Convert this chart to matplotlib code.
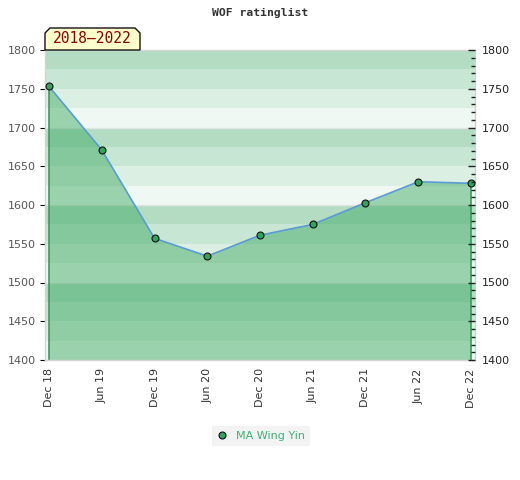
import matplotlib
matplotlib.use("Agg")
import matplotlib.pyplot as plt
from matplotlib.patches import Polygon
from matplotlib.ticker import MultipleLocator

# ---- data ----
periods = ["Dec 18", "Jun 19", "Dec 19", "Jun 20", "Dec 20", "Jun 21", "Dec 21", "Jun 22", "Dec 22"]
ratings = [1753, 1671, 1557, 1534, 1561, 1575, 1603, 1630, 1628]
player = "MA Wing Yin"
title = "WOF ratinglist"
range_label = "2018\u20132022"
y_min, y_max = 1400, 1800

W, H = 520, 480
fig = plt.figure(figsize=(W / 100, H / 100), dpi=100)
fig.patch.set_facecolor("white")

L, R, T, B = 45, 475, 50, 360
ax = fig.add_axes([L / W, 1 - B / H, (R - L) / W, (B - T) / H])

x = list(range(len(periods)))
pad = 4 / ((R - L - 8) / (len(periods) - 1))
ax.set_xlim(-pad, len(periods) - 1 + pad)
ax.set_ylim(y_min, y_max)

# background bands (4 per 100 points)
band_colors = ["#eff8f2", "#dcefe3", "#c8e6d4", "#b3dcc3"]
v = y_min
while v < y_max:
    idx = int(((v - y_min) % 100) // 25)
    ax.axhspan(v, v + 25, color=band_colors[idx], lw=0, zorder=0)
    v += 25
for v in range(y_min + 100, y_max, 100):
    ax.axhline(v, color="#e4e4e4", lw=1, zorder=0.5)

# area fill
ax.fill_between(x, ratings, y_min, facecolor=(59 / 255, 168 / 255, 96 / 255), alpha=0.47,
                lw=0, zorder=1)
ax.vlines([x[0], x[-1]], y_min, [ratings[0], ratings[-1]], color="#3a9d5d", lw=1.2, zorder=2)
ax.plot(x, ratings, color="#5b9bd5", lw=1.2, zorder=3)
ax.plot(x, ratings, ls="none", marker="o", ms=5, mfc="#33a35c", mec="#111111", mew=0.8,
        zorder=4, label=player)

for s in ax.spines.values():
    s.set_color("#d4d4d4")
    s.set_linewidth(1)

ax.set_xticks(x)
ax.set_xticklabels(periods, rotation=90, fontsize=8, color="#333333")
ax.tick_params(axis="x", length=0, pad=6)

ax.yaxis.set_major_locator(MultipleLocator(50))
ax.tick_params(axis="y", left=False, labelsize=8, labelcolor="#555555", pad=3)

ax2 = ax.twinx()
ax2.set_ylim(y_min, y_max)
ax2.yaxis.set_major_locator(MultipleLocator(50))
ax2.yaxis.set_minor_locator(MultipleLocator(10))
ax2.tick_params(axis="y", which="major", direction="in", length=5, width=1, color="#222222",
                labelsize=8, labelcolor="#222222", pad=5)
ax2.tick_params(axis="y", which="minor", direction="in", length=3, width=1, color="#222222")
for s in ax2.spines.values():
    s.set_visible(False)

# title
fig.text(0.5, 1 - 13 / H, title, ha="center", va="center", fontsize=8.2,
         family="DejaVu Sans Mono", fontweight="bold", color="#333333")

# range label box with chamfered top corners
bx0, bx1, by0, by1, c = 45, 140, 28, 50, 5
pts = [(bx0, by1), (bx0, by0 + c), (bx0 + c, by0), (bx1 - c, by0), (bx1, by0 + c), (bx1, by1)]
poly = Polygon([(px / W, 1 - py / H) for px, py in pts], closed=True, transform=fig.transFigure,
               facecolor="#ffffcc", edgecolor="#111111", lw=1, zorder=5)
fig.patches.append(poly)
fig.text((bx0 + bx1) / 2 / W, 1 - (by0 + by1) / 2 / H + 0.002, range_label, ha="center",
         va="center", fontsize=10.5, family="DejaVu Sans Mono", color="#8b0000", zorder=6)

# legend
leg = fig.legend(loc="center", bbox_to_anchor=(261 / W, 1 - 436 / H), frameon=True,
                 fontsize=8, handlelength=0.8, handletextpad=0.9, borderpad=0.45,
                 fancybox=False, labelcolor="#3cb371")
leg.get_frame().set_facecolor("#f0f0f0")
leg.get_frame().set_edgecolor("none")

fig.savefig("out.png", dpi=100)
